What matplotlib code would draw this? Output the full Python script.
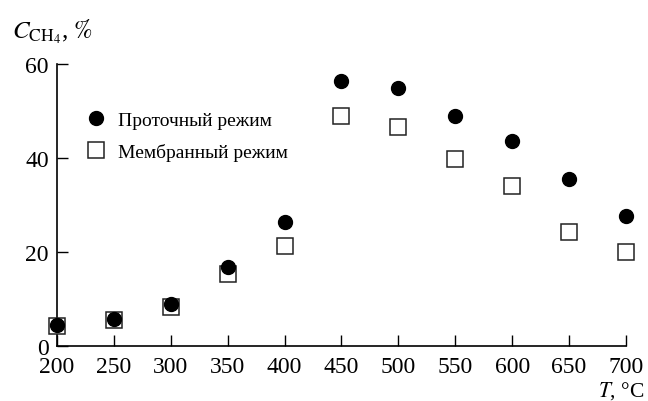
import matplotlib.pyplot as plt

plt.rcParams['font.family'] = ['Liberation Serif', 'DejaVu Serif']
plt.rcParams['mathtext.fontset'] = 'stix'

T = [200, 250, 300, 350, 400, 450, 500, 550, 600, 650, 700]
flow = [4.4, 5.8, 9.0, 16.7, 26.3, 56.5, 55.0, 48.9, 43.7, 35.5, 27.7]
membrane = [4.2, 5.6, 8.3, 15.3, 21.3, 48.9, 46.7, 39.8, 34.0, 24.2, 20.0]

fig = plt.figure(figsize=(6.48, 4.02), dpi=100)
ax = fig.add_axes([0.088, 0.137, 0.878, 0.701])

ax.plot(T, membrane, 's', ms=11, mfc='white', mec='#222222', mew=1.1,
        clip_on=False, zorder=3, label='Мембранный режим')
ax.plot(T, flow, 'o', ms=10, color='black', clip_on=False, zorder=4,
        label='Проточный режим')

ax.set_xlim(200, 700)
ax.set_ylim(0, 60)
ax.set_xticks(range(200, 701, 50))
ax.set_yticks([0, 20, 40, 60])
ax.tick_params(direction='in', length=8, width=1, labelsize=17)
ax.tick_params(axis='x', pad=7.5)
ax.tick_params(axis='y', pad=6)
for s in ['top', 'right']:
    ax.spines[s].set_visible(False)
for s in ['left', 'bottom']:
    ax.spines[s].set_linewidth(1.2)

h, l = ax.get_legend_handles_labels()
ax.legend(h[::-1], l[::-1], loc='upper left', bbox_to_anchor=(0.035, 0.86),
          frameon=False, fontsize=14, handletextpad=0.5, labelspacing=0.7,
          handlelength=1.2, borderaxespad=0)

fig.text(0.018, 0.885, r'$C_{\mathrm{CH_4}}$, $\%$', fontsize=18, ha='left', va='bottom')
fig.text(0.995, 0.0, r'$T$, °C', fontsize=15.5, ha='right', va='bottom')

plt.savefig('out.png', dpi=100)
